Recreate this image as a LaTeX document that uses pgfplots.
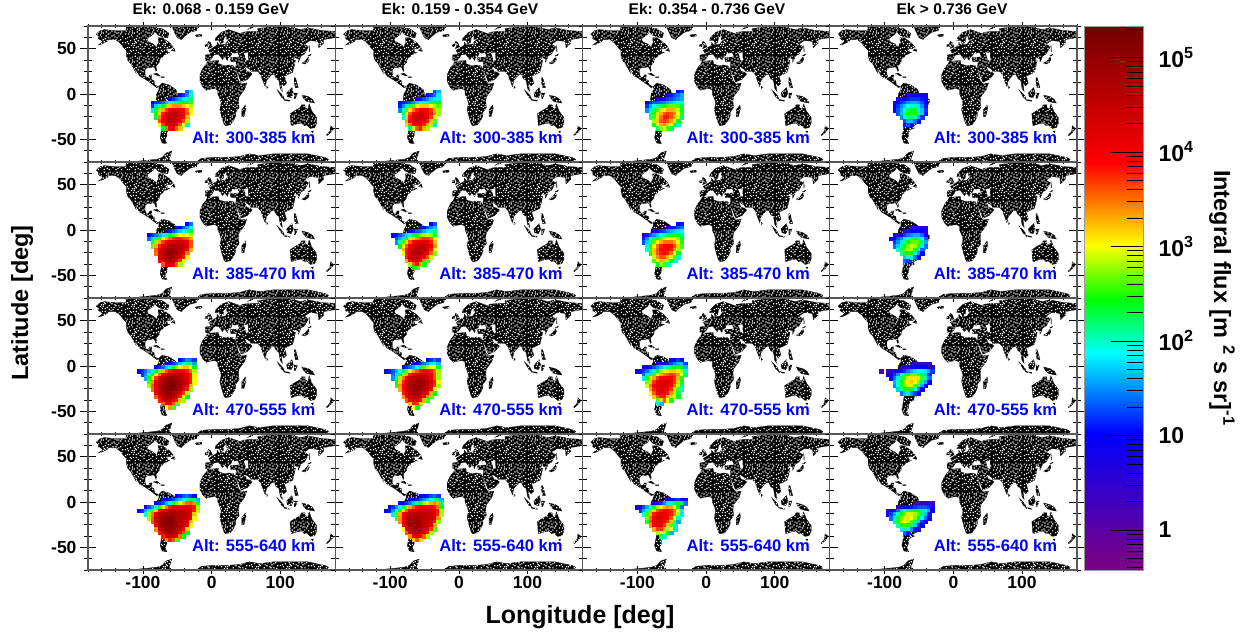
\documentclass[border=0pt]{standalone}
\usepackage{fontspec}
\setmainfont{Liberation Sans}
\usepackage{pgfplots}
\usepackage{pgfplotstable}
\pgfplotsset{compat=1.18}
\usetikzlibrary{patterns}

% white noise on the land
\pgfdeclarepatternformonly{speck}{\pgfqpoint{0pt}{0pt}}{\pgfqpoint{31pt}{29pt}}{\pgfqpoint{31pt}{29pt}}{%
  \foreach \x/\y in {1/3,5/1,9/4,14/2,18/5,23/1,27/3,3/7,7/9,12/7,16/10,21/8,25/6,29/9,
    1/12,6/14,10/11,14/14,19/12,24/13,28/15,3/17,8/18,12/16,17/17,22/18,26/19,
    1/21,5/23,10/22,15/21,19/24,24/22,29/23,3/26,8/27,13/26,17/28,22/26,27/27,
    11/1,20/3,4/11,26/10,16/6,8/24,21/20,13/19,30/18,6/4,23/15,18/8,2/24,25/25,
    11/13,29/5,15/25,7/20,20/15,9/7,
    3/1,7/3,12/4,16/1,25/2,29/1,1/6,5/7,10/9,14/8,20/6,23/10,27/8,30/12,
    3/13,8/11,12/12,17/13,22/11,26/14,1/16,5/18,10/15,15/17,19/19,24/17,28/21,
    4/21,8/22,13/23,17/22,22/23,26/22,30/25,1/27,6/26,11/28,15/27,20/27,24/28,29/27}{%
    \pgfpathrectangle{\pgfpoint{\x pt}{\y pt}}{\pgfqpoint{1.25pt}{1.25pt}}\pgfusepath{fill}}}

\pgfplotsset{colormap={saa}{rgb255(0pt)=(128,0,128); rgb255(252pt)=(0,0,255); rgb255(399pt)=(0,255,255);
  rgb255(498pt)=(0,255,0); rgb255(597pt)=(255,255,0); rgb255(748pt)=(255,0,0); rgb255(1000pt)=(115,0,0)}}

% continents, lon lat
\pgfplotstableread{
lon lat
-168 66
-162 70
-156 71
-141 70
-128 70
-115 70
-108 70
-95 71
-90 72
-82 70
-85 66
-94 61
-93 58
-85 55
-82 53
-80 51
-79 54
-77 57
-78 62
-72 62
-66 59
-62 57
-56 52
-60 50
-66 50
-70 47
-65 49
-64 46
-61 46
-66 44
-70 43
-71 41
-74 40
-76 37
-76 35
-81 31
-80 26
-81 25
-83 29
-85 30
-90 29
-94 29
-97 27
-97 22
-95 18
-91 19
-90 21
-87 21
-88 16
-84 15
-83 10
-80 9
-77 8
-80 7
-85 10
-92 14
-96 16
-105 20
-109 25
-113 31
-110 23
-115 30
-118 34
-122 37
-124 42
-124 48
-128 51
-133 56
-140 60
-150 60
-152 58
-160 55
-165 54
-158 58
-165 61
-165 64
-168 66
nan nan
-73 78
-60 82
-30 83
-20 75
-22 70
-32 68
-42 62
-44 60
-50 62
-54 68
-58 75
-70 76
nan nan
-90 74
-72 72
-62 67
-64 62
-72 63
-78 65
-84 70
nan nan
-125 76
-85 76
-85 72
-100 69
-118 69
-125 71
nan nan
-59 48
-53 47
-55 51
nan nan
-85 22
-80 23
-75 20
-78 20
nan nan
-74 19
-69 19
-69 18
-74 18
nan nan
-24 65
-15 66
-14 64
-22 63
nan nan
-5 58
-2 57
1 52
-5 50
-3 54
-6 56
nan nan
-10 54
-6 55
-6 52
-10 52
nan nan
-77 8
-72 12
-62 10
-52 5
-50 0
-44 -2
-35 -6
-35 -9
-39 -15
-41 -22
-48 -26
-53 -33
-58 -35
-57 -38
-62 -39
-65 -42
-65 -46
-68 -50
-65 -55
-72 -54
-75 -48
-73 -40
-71 -30
-70 -18
-76 -14
-81 -6
-80 0
-77 4
nan nan
-6 36
10 37
11 33
20 31
25 32
32 31
34 28
37 21
39 15
43 11
51 12
48 5
40 -3
39 -8
40 -15
35 -20
35 -24
32 -29
27 -34
20 -35
18 -33
15 -26
12 -17
14 -10
12 -5
9 0
9 4
5 6
-5 5
-8 4
-13 8
-17 14
-17 21
-13 28
-9 32
nan nan
-9 37
-9 43
-1 44
-4 48
2 51
8 54
8 57
11 54
20 55
24 59
30 60
22 60
22 65
18 62
17 57
13 55
11 59
5 59
6 62
14 68
25 71
40 67
44 66
44 68
55 69
68 69
67 72
75 73
80 73
100 76
113 74
130 71
140 73
160 70
180 69
180 65
178 62
163 60
163 56
156 51
155 58
143 59
135 55
141 52
135 44
130 42
128 38
126 35
126 39
121 40
118 38
122 37
120 30
118 24
110 21
106 20
109 12
105 9
101 13
103 3
100 6
98 15
94 17
91 22
87 21
80 15
78 8
73 18
72 21
67 25
57 25
56 27
50 30
48 30
51 25
56 24
59 22
52 16
43 13
39 21
35 28
36 36
28 36
27 40
41 41
38 46
33 45
30 46
28 42
24 40
23 37
20 40
13 45
18 40
16 38
10 44
3 43
0 39
-5 36
nan nan
80 9
82 7
80 6
nan nan
131 34
136 36
141 41
142 38
140 35
135 33
nan nan
140 42
145 44
143 42
nan nan
142 54
143 47
142 47
nan nan
120 18
122 18
124 13
126 7
122 7
120 14
nan nan
109 1
117 7
119 1
116 -4
110 -3
nan nan
95 5
104 -2
106 -6
101 -3
nan nan
105 -6
114 -7
114 -8
106 -7
nan nan
120 1
125 1
122 -5
120 -5
nan nan
131 -1
141 -3
147 -6
150 -10
143 -9
138 -8
133 -4
nan nan
114 -22
122 -18
129 -15
131 -12
136 -12
136 -15
140 -17
142 -11
146 -19
153 -26
153 -32
150 -37
144 -38
138 -34
135 -35
131 -32
124 -33
116 -35
115 -30
nan nan
145 -41
148 -41
147 -43
nan nan
173 -35
178 -38
175 -41
172 -40
nan nan
172 -41
174 -42
168 -46
167 -45
nan nan
49 -12
50 -16
47 -25
44 -25
44 -17
nan nan
52 71
58 74
68 77
56 72
nan nan
-180 -85
-160 -78
-100 -73.5
-80 -72
-72 -70
-66 -65
-58 -63
-60 -68
-62 -72
-60 -75
-40 -78
-20 -74
-15 -71
0 -70
20 -70
40 -69
55 -66
70 -68
90 -66
110 -66
140 -66
165 -70
170 -72
165 -78
180 -80
180 -85
}\landtbl
\pgfplotstableread{
lon lat
47 45
53 46
53 40
54 37
50 37
49 41
}\caspiantbl

% flux cells: log10(flux) x 10, rows are latitude, columns are longitude
\pgfplotstableread{
lat -105 -100 -95 -90 -85 -80 -75 -70 -65 -60 -55 -50 -45 -40 -35 -30 -25 -20
2 nan nan nan nan nan nan nan nan nan nan nan nan nan nan 14 18 nan nan
-2 nan nan nan nan nan nan nan nan nan nan nan nan 10 12 15 20 nan nan
-6 nan nan nan nan nan nan nan nan nan 8 12 14 16 18 20 22 nan nan
-10 nan nan nan nan 10 12 12 14 16 19 21 22 23 24 25 26 nan nan
-14 nan nan nan nan 12 17 20 24 28 32 34 34 34 32 30 28 nan nan
-18 nan nan nan nan 18 22 28 33 37 40 42 42 41 39 35 30 nan nan
-22 nan nan nan nan nan 25 32 38 42 44 45 44 43 40 36 30 nan nan
-26 nan nan nan nan nan 23 34 40 44 46 46 45 43 40 33 nan nan nan
-30 nan nan nan nan nan nan 36 41 44 46 45 44 41 36 28 nan nan nan
-34 nan nan nan nan nan nan 30 37 42 43 43 41 36 30 20 nan nan nan
-38 nan nan nan nan nan nan nan 24 35 40 42 36 32 nan nan nan nan nan
}\pAA
\pgfplotstableread{
lat -105 -100 -95 -90 -85 -80 -75 -70 -65 -60 -55 -50 -45 -40 -35 -30 -25 -20
2 nan nan nan nan nan nan nan nan nan nan nan nan nan nan 13 16 nan nan
-2 nan nan nan nan nan nan nan nan nan nan nan nan 10 12 14 18 nan nan
-6 nan nan nan nan nan nan nan nan nan 8 11 13 15 17 18 20 nan nan
-10 nan nan nan nan 9 11 12 13 15 17 19 20 21 22 23 24 nan nan
-14 nan nan nan nan 11 15 18 22 26 30 32 32 32 30 28 26 nan nan
-18 nan nan nan nan 15 20 26 31 35 38 40 40 39 37 33 28 nan nan
-22 nan nan nan nan nan 22 30 36 40 42 43 42 41 38 34 28 nan nan
-26 nan nan nan nan nan 20 32 38 42 44 44 43 41 37 30 nan nan nan
-30 nan nan nan nan nan nan 33 39 42 44 43 42 38 32 26 nan nan nan
-34 nan nan nan nan nan nan 28 35 40 41 41 38 33 28 18 nan nan nan
-38 nan nan nan nan nan nan nan 22 30 36 38 33 28 nan nan nan nan nan
}\pAB
\pgfplotstableread{
lat -105 -100 -95 -90 -85 -80 -75 -70 -65 -60 -55 -50 -45 -40 -35 -30 -25 -20
2 nan nan nan nan nan nan nan nan nan nan nan nan nan 10 12 nan nan nan
-2 nan nan nan nan nan nan nan nan nan nan 9 11 13 14 16 nan nan nan
-6 nan nan nan nan nan nan nan 8 10 11 12 13 14 15 16 nan nan nan
-10 nan nan nan nan 10 12 13 13 14 15 16 17 18 19 20 nan nan nan
-14 nan nan nan nan 12 16 19 21 23 25 26 27 27 26 23 nan nan nan
-18 nan nan nan nan 15 18 22 26 29 31 33 33 32 29 24 nan nan nan
-22 nan nan nan nan nan 20 25 29 33 36 37 36 34 30 25 nan nan nan
-26 nan nan nan nan nan 20 26 31 35 38 38 36 33 29 22 nan nan nan
-30 nan nan nan nan nan nan 28 32 36 37 36 33 29 24 nan nan nan nan
-34 nan nan nan nan nan nan 25 30 33 34 32 29 25 20 nan nan nan nan
-38 nan nan nan nan nan nan nan 22 28 30 26 22 nan nan nan nan nan nan
}\pAC
\pgfplotstableread{
lat -105 -100 -95 -90 -85 -80 -75 -70 -65 -60 -55 -50 -45 -40 -35 -30 -25 -20
-2 nan nan nan nan nan nan nan nan 6 8 9 8 7 9 nan nan nan nan
-6 nan nan nan nan nan 7 8 9 11 12 12 12 11 9 nan nan nan nan
-10 nan nan nan nan 8 10 12 13 15 16 16 15 13 10 nan nan nan nan
-14 nan nan nan nan 9 12 15 17 19 20 20 18 15 11 nan nan nan nan
-18 nan nan nan nan 10 13 16 19 22 24 23 20 17 12 nan nan nan nan
-22 nan nan nan nan nan 13 17 21 24 25 24 21 17 11 nan nan nan nan
-26 nan nan nan nan nan nan 15 19 21 22 20 16 12 nan nan nan nan nan
-30 nan nan nan nan nan nan nan 13 16 17 14 10 nan nan nan nan nan nan
-34 nan nan nan nan nan nan nan 11 13 10 nan nan nan nan nan nan nan nan
}\pAD
\pgfplotstableread{
lat -105 -100 -95 -90 -85 -80 -75 -70 -65 -60 -55 -50 -45 -40 -35 -30 -25 -20
6 nan nan nan nan nan nan nan nan nan nan nan nan nan nan 10 14 nan nan
2 nan nan nan nan nan nan nan nan nan nan nan 8 10 13 16 19 nan nan
-2 nan nan nan nan nan nan nan nan 9 11 13 15 17 19 21 24 nan nan
-6 nan nan nan 10 12 14 16 18 21 24 26 28 30 31 30 28 nan nan
-10 nan nan nan 14 17 22 26 30 33 35 37 38 38 37 36 33 nan nan
-14 nan nan nan nan 22 28 33 37 40 42 43 44 44 43 41 36 nan nan
-18 nan nan nan nan 27 33 38 42 45 46 47 47 46 45 42 36 nan nan
-22 nan nan nan nan nan 36 41 45 48 49 49 48 47 44 40 33 nan nan
-26 nan nan nan nan nan 35 42 46 49 50 49 48 45 42 35 nan nan nan
-30 nan nan nan nan nan nan 42 46 48 49 48 46 43 38 30 nan nan nan
-34 nan nan nan nan nan nan 39 44 46 47 45 42 37 30 nan nan nan nan
-38 nan nan nan nan nan nan nan 36 42 44 41 36 28 nan nan nan nan nan
}\pBA
\pgfplotstableread{
lat -105 -100 -95 -90 -85 -80 -75 -70 -65 -60 -55 -50 -45 -40 -35 -30 -25 -20
6 nan nan nan nan nan nan nan nan nan nan nan nan nan 10 13 nan nan nan
2 nan nan nan nan nan nan nan nan nan nan 8 10 13 15 17 nan nan nan
-2 nan nan nan nan nan nan nan 9 11 13 14 16 18 20 22 nan nan nan
-6 nan nan 9 11 13 15 17 20 23 25 27 28 29 28 25 nan nan nan
-10 nan nan nan 13 16 21 25 29 32 34 36 37 37 35 30 nan nan nan
-14 nan nan nan 15 20 26 31 36 39 41 42 42 41 38 32 nan nan nan
-18 nan nan nan nan 24 30 36 40 43 44 45 44 43 40 34 nan nan nan
-22 nan nan nan nan nan 33 38 42 45 46 46 45 43 38 30 nan nan nan
-26 nan nan nan nan nan 30 39 43 46 47 46 44 41 36 27 nan nan nan
-30 nan nan nan nan nan nan 38 43 45 46 44 41 36 29 nan nan nan nan
-34 nan nan nan nan nan nan 33 40 43 43 40 34 26 nan nan nan nan nan
-38 nan nan nan nan nan nan nan 28 36 38 33 25 nan nan nan nan nan nan
-42 nan nan nan nan nan nan nan nan 24 26 nan nan nan nan nan nan nan nan
}\pBB
\pgfplotstableread{
lat -105 -100 -95 -90 -85 -80 -75 -70 -65 -60 -55 -50 -45 -40 -35 -30 -25 -20
6 nan nan nan nan nan nan nan nan nan nan nan nan nan 9 11 nan nan nan
2 nan nan nan nan nan nan nan nan nan nan 7 9 11 13 14 nan nan nan
-2 nan nan nan nan nan nan 8 10 12 13 15 16 17 18 19 nan nan nan
-6 nan nan nan 9 11 13 15 17 19 21 23 24 25 25 22 nan nan nan
-10 nan nan nan 11 15 19 22 25 27 29 30 30 30 28 24 nan nan nan
-14 nan nan nan 13 17 22 26 30 33 35 35 35 33 30 25 nan nan nan
-18 nan nan nan nan 20 25 30 35 38 39 40 39 36 32 26 nan nan nan
-22 nan nan nan nan 20 26 32 36 39 40 40 38 34 28 nan nan nan nan
-26 nan nan nan nan nan 25 32 36 38 39 38 35 30 24 nan nan nan nan
-30 nan nan nan nan nan nan 29 34 36 36 33 29 26 20 nan nan nan nan
-34 nan nan nan nan nan nan 26 31 33 32 28 24 18 nan nan nan nan nan
-38 nan nan nan nan nan nan nan 24 28 26 20 nan nan nan nan nan nan nan
}\pBC
\pgfplotstableread{
lat -105 -100 -95 -90 -85 -80 -75 -70 -65 -60 -55 -50 -45 -40 -35 -30 -25 -20
2 nan nan nan nan nan nan nan nan nan 5 6 7 6 5 nan nan nan nan
-2 nan nan nan nan nan nan nan 6 7 9 10 10 10 8 nan nan nan nan
-6 nan nan nan nan 7 8 10 12 14 15 16 16 14 10 nan nan nan nan
-10 nan nan nan 8 10 13 15 18 20 22 23 22 19 13 nan nan nan nan
-14 nan nan nan nan 12 15 18 21 24 26 27 26 22 16 nan nan nan nan
-18 nan nan nan nan 14 17 21 24 27 29 28 25 20 14 nan nan nan nan
-22 nan nan nan nan nan 19 23 26 28 28 25 20 14 nan nan nan nan nan
-26 nan nan nan nan nan nan 20 23 25 24 20 15 10 nan nan nan nan nan
-30 nan nan nan nan nan nan nan 17 20 19 14 9 nan nan nan nan nan nan
-34 nan nan nan nan nan nan nan 14 12 nan nan nan nan nan nan nan nan nan
}\pBD
\pgfplotstableread{
lat -105 -100 -95 -90 -85 -80 -75 -70 -65 -60 -55 -50 -45 -40 -35 -30 -25 -20
6 nan nan nan nan nan nan nan nan nan nan nan nan 10 12 15 14 12 nan
2 nan nan nan nan nan nan nan nan 8 10 12 14 17 20 22 21 16 nan
-2 nan nan nan nan nan 10 12 14 17 20 24 27 30 32 32 30 24 nan
-6 9 12 14 17 20 24 28 33 36 38 40 41 41 40 38 35 28 nan
-10 nan 12 15 20 24 30 35 40 43 45 46 46 46 44 42 38 30 nan
-14 nan nan 16 24 30 37 42 46 48 49 49 48 47 45 42 38 30 nan
-18 nan nan nan 26 34 40 45 48 50 51 51 50 48 46 43 38 30 nan
-22 nan nan nan 28 36 42 46 49 51 52 52 50 48 45 41 33 nan nan
-26 nan nan nan nan 35 41 46 49 51 52 51 49 47 43 38 28 nan nan
-30 nan nan nan nan nan 40 45 48 50 50 48 46 43 37 28 nan nan nan
-34 nan nan nan nan nan 36 42 46 48 48 46 43 38 30 24 nan nan nan
-38 nan nan nan nan nan nan 38 44 46 46 42 38 32 28 nan nan nan nan
-42 nan nan nan nan nan nan nan 36 41 41 36 26 nan nan nan nan nan nan
-46 nan nan nan nan nan nan nan nan 30 34 26 nan nan nan nan nan nan nan
}\pCA
\pgfplotstableread{
lat -105 -100 -95 -90 -85 -80 -75 -70 -65 -60 -55 -50 -45 -40 -35 -30 -25 -20
6 nan nan nan nan nan nan nan nan nan nan nan nan 10 12 14 12 nan nan
2 nan nan nan nan nan nan nan nan 8 10 12 14 16 18 20 16 nan nan
-2 nan nan nan nan nan 10 12 14 16 19 23 26 28 30 30 24 nan nan
-6 9 11 13 16 19 23 27 31 34 36 38 39 39 38 35 28 nan nan
-10 nan nan 14 18 23 28 33 38 41 43 44 44 43 40 36 28 nan nan
-14 nan nan 15 22 28 35 40 44 46 47 47 46 44 41 36 28 nan nan
-18 nan nan nan 24 32 38 43 46 48 49 49 48 46 43 38 30 nan nan
-22 nan nan nan 25 34 40 44 47 49 50 50 48 46 42 37 28 nan nan
-26 nan nan nan nan 33 39 44 47 49 50 49 47 44 40 30 nan nan nan
-30 nan nan nan nan nan 38 43 46 48 48 46 44 40 33 24 nan nan nan
-34 nan nan nan nan nan 34 40 44 46 46 44 40 34 26 nan nan nan nan
-38 nan nan nan nan nan nan 36 41 44 44 39 33 26 nan nan nan nan nan
-42 nan nan nan nan nan nan nan 32 38 37 28 nan nan nan nan nan nan nan
-46 nan nan nan nan nan nan nan nan 30 24 nan nan nan nan nan nan nan nan
}\pCB
\pgfplotstableread{
lat -105 -100 -95 -90 -85 -80 -75 -70 -65 -60 -55 -50 -45 -40 -35 -30 -25 -20
6 nan nan nan nan nan nan nan nan nan nan nan 8 10 12 10 nan nan nan
2 nan nan nan nan nan nan nan 8 9 10 11 13 15 16 17 12 nan nan
-2 nan nan nan 9 10 11 13 15 17 19 21 23 24 25 24 16 nan nan
-6 nan 8 10 12 14 17 20 24 28 30 31 32 32 31 28 20 nan nan
-10 nan nan nan 14 18 22 26 30 33 35 36 37 36 34 30 22 nan nan
-14 nan nan nan 18 24 29 33 37 39 40 40 39 37 33 25 nan nan nan
-18 nan nan nan nan 27 32 37 40 42 42 42 40 37 32 24 nan nan nan
-22 nan nan nan nan 29 35 39 42 43 43 42 39 35 29 22 nan nan nan
-26 nan nan nan nan nan 33 38 41 42 42 40 37 32 26 20 nan nan nan
-30 nan nan nan nan nan 30 36 39 41 41 38 34 28 22 nan nan nan nan
-34 nan nan nan nan nan nan 32 36 38 38 33 28 30 24 nan nan nan nan
-38 nan nan nan nan nan nan nan 26 32 36 30 24 nan nan nan nan nan nan
-42 nan nan nan nan nan nan nan 20 16 nan nan nan nan nan nan nan nan nan
}\pCC
\pgfplotstableread{
lat -105 -100 -95 -90 -85 -80 -75 -70 -65 -60 -55 -50 -45 -40 -35 -30 -25 -20
2 nan nan nan nan nan nan nan nan nan 4 4 5 5 5 4 nan nan nan
-2 nan nan nan nan nan nan 6 7 8 9 10 10 10 10 8 6 nan nan
-6 3 nan 5 5 6 8 10 12 14 16 18 19 19 18 16 12 nan nan
-10 nan nan 6 9 12 15 19 23 25 27 27 26 22 17 12 nan nan nan
-14 nan nan nan 10 14 18 22 26 29 31 31 29 26 20 14 nan nan nan
-18 nan nan nan nan 16 20 24 28 31 32 30 27 22 16 10 nan nan nan
-22 nan nan nan nan 15 19 23 27 29 29 26 21 16 10 nan nan nan nan
-26 nan nan nan nan nan 17 21 24 25 23 19 14 10 nan nan nan nan nan
-30 nan nan nan nan nan nan 14 17 18 15 12 8 nan nan nan nan nan nan
}\pCD
\pgfplotstableread{
lat -105 -100 -95 -90 -85 -80 -75 -70 -65 -60 -55 -50 -45 -40 -35 -30 -25 -20
6 nan nan nan nan nan nan nan nan nan nan nan 10 11 13 14 12 10 nan
2 nan nan nan nan nan nan nan 9 10 11 13 15 17 19 21 23 22 16
-2 nan nan nan nan nan 10 11 13 16 19 23 27 30 33 35 36 34 24
-6 nan nan 10 13 16 20 25 30 35 38 40 41 42 42 42 41 38 28
-10 10 12 16 20 26 32 38 42 44 45 46 46 46 45 44 43 38 28
-14 nan nan 20 28 35 41 45 47 48 48 48 47 47 46 45 42 32 nan
-18 nan nan nan 28 36 43 47 49 50 50 49 48 47 46 44 41 30 nan
-22 nan nan nan nan 36 43 48 50 51 51 50 48 47 45 42 33 nan nan
-26 nan nan nan nan nan 41 47 50 51 51 50 48 46 44 40 30 nan nan
-30 nan nan nan nan nan 34 44 48 50 50 49 47 45 41 32 nan nan nan
-34 nan nan nan nan nan nan 38 45 48 48 47 45 42 36 24 nan nan nan
-38 nan nan nan nan nan nan nan 38 44 45 44 41 35 24 nan nan nan nan
-42 nan nan nan nan nan nan nan nan 34 38 36 26 nan nan nan nan nan nan
}\pDA
\pgfplotstableread{
lat -105 -100 -95 -90 -85 -80 -75 -70 -65 -60 -55 -50 -45 -40 -35 -30 -25 -20
6 nan nan nan nan nan nan nan nan nan nan 9 10 11 13 14 12 nan nan
2 nan nan nan nan nan nan nan 9 10 11 13 15 17 19 21 22 16 nan
-2 nan nan nan nan 8 10 12 14 17 21 25 28 31 33 34 33 22 nan
-6 nan 9 12 15 19 24 29 33 36 38 39 40 40 40 38 35 24 nan
-10 9 11 15 19 25 31 36 40 42 43 44 44 44 43 42 38 28 nan
-14 nan nan 18 26 33 39 43 45 46 46 46 45 45 44 42 38 28 nan
-18 nan nan nan 26 34 41 45 47 48 48 47 46 45 44 41 34 nan nan
-22 nan nan nan nan 34 41 46 48 49 49 48 46 45 43 38 28 nan nan
-26 nan nan nan nan nan 39 45 48 49 49 48 46 44 41 33 nan nan nan
-30 nan nan nan nan nan 30 42 46 48 48 47 45 43 37 26 nan nan nan
-34 nan nan nan nan nan nan 36 43 46 46 45 43 38 28 nan nan nan nan
-38 nan nan nan nan nan nan nan 34 42 43 42 36 28 nan nan nan nan nan
-42 nan nan nan nan nan nan nan nan 32 36 28 nan nan nan nan nan nan nan
}\pDB
\pgfplotstableread{
lat -105 -100 -95 -90 -85 -80 -75 -70 -65 -60 -55 -50 -45 -40 -35 -30 -25 -20
2 nan nan nan nan nan nan nan nan nan nan 8 10 11 12 10 9 nan nan
-2 nan nan nan nan nan nan 8 10 12 15 18 21 23 24 22 14 nan nan
-6 nan 7 10 13 16 20 24 28 31 33 34 33 30 24 14 nan nan nan
-10 nan nan 12 16 20 26 32 36 38 39 39 38 35 30 20 nan nan nan
-14 nan nan nan 20 26 33 38 40 41 41 40 38 34 28 18 nan nan nan
-18 nan nan nan nan 27 35 40 42 42 41 40 36 30 20 nan nan nan nan
-22 nan nan nan nan 25 36 41 42 42 40 37 32 26 16 nan nan nan nan
-26 nan nan nan nan nan 34 40 41 40 37 32 26 20 nan nan nan nan nan
-30 nan nan nan nan nan nan 33 37 37 33 28 30 18 nan nan nan nan nan
-34 nan nan nan nan nan nan nan 28 31 29 24 16 nan nan nan nan nan nan
-38 nan nan nan nan nan nan nan nan 22 20 nan nan nan nan nan nan nan nan
}\pDC
\pgfplotstableread{
lat -105 -100 -95 -90 -85 -80 -75 -70 -65 -60 -55 -50 -45 -40 -35 -30 -25 -20
-2 nan nan nan nan nan nan nan nan nan nan 3 3 4 4 5 3 nan nan
-6 nan nan nan nan nan 6 7 9 10 11 12 13 13 13 12 8 nan nan
-10 nan nan 6 8 11 14 17 20 22 23 24 23 22 20 16 9 nan nan
-14 nan nan 8 12 16 20 24 27 29 29 28 26 22 17 11 nan nan nan
-18 nan nan nan 14 18 23 27 30 31 30 27 24 19 14 8 nan nan nan
-22 nan nan nan nan 18 24 28 30 29 26 22 17 12 8 nan nan nan nan
-26 nan nan nan nan nan 20 24 26 25 22 17 12 8 nan nan nan nan nan
-30 nan nan nan nan nan nan 18 21 20 15 10 6 nan nan nan nan nan nan
-34 nan nan nan nan nan nan nan 14 11 nan nan nan nan nan nan nan nan nan
}\pDD

\pgfplotstableread{
x y m
0 0.377 -4.24
1 0.377 -4.24
0 215000 53.32
1 215000 53.32
}\cbartbl

\pgfplotsset{
  panelbase/.style={
    anchor=south west, scale only axis, width=247.25pt, height=136pt,
    xmin=-180, xmax=180, ymin=-75, ymax=75,
    tick align=center, clip=true,
    axis line style={black!65,line width=1.1pt},
    every tick/.style={black,line width=.7pt},
    tick label style={font=\bfseries\fontsize{17.5}{18}\selectfont},
  },
  cell/.style={scatter, only marks, mark=square*, mark size=1.82pt, scatter src=explicit,
    scatter/use mapped color={draw=mapped color,fill=mapped color}, line width=0pt},
}

% #1 x left, #2 y bottom, #3 flux table, #4 altitude, #5 x labels, #6 y labels
\newcommand{\panel}[6]{%
  \begin{axis}[panelbase, at={(#1pt,#2pt)}, axis on top,
      tickwidth=8pt, subtickwidth=4pt, ytick=\empty,
      xtick={-100,0,100}, minor xtick={-180,-160,...,180}, xticklabels={#5},
      xticklabel style={yshift=1pt},
      colormap name=saa, point meta min=-4.24, point meta max=53.32]
    \addplot[fill=black, draw=black, line width=.3pt, unbounded coords=jump] table[x=lon,y=lat] {\landtbl};
    \addplot[draw=none, pattern=speck, pattern color=white, unbounded coords=jump] table[x=lon,y=lat] {\landtbl};
    \addplot[fill=white, draw=none] table[x=lon,y=lat] {\caspiantbl};
    \pgfplotsinvokeforeach{-105,-100,...,-20}{%
      \addplot[cell] table[x expr=##1, y expr={\thisrow{lat}+\thisrow{##1}-\thisrow{##1}}, meta=##1] {#3};}
    \node[anchor=east, text=blue, font=\bfseries\fontsize{16.6}{17}\selectfont]
      at (rel axis cs:0.934,0.176) {Alt: #4 km};
  \end{axis}
  \begin{axis}[panelbase, at={(#1pt,#2pt)},
      tickwidth=16pt, subtickwidth=8pt, xtick=\empty,
      ytick={-50,0,50}, minor ytick={-75,-62.5,...,75}, yticklabels={#6},
      yticklabel style={xshift=0pt}]
  \end{axis}}

\begin{document}
\begin{tikzpicture}
\useasboundingbox (0,0) rectangle (1256pt,635pt);

\panel{88}{473}{\pAA}{300-385}{}{-50,0,50}
\panel{335.25}{473}{\pAB}{300-385}{}{}
\panel{582.5}{473}{\pAC}{300-385}{}{}
\panel{829.75}{473}{\pAD}{300-385}{}{}
\panel{88}{337}{\pBA}{385-470}{}{-50,0,50}
\panel{335.25}{337}{\pBB}{385-470}{}{}
\panel{582.5}{337}{\pBC}{385-470}{}{}
\panel{829.75}{337}{\pBD}{385-470}{}{}
\panel{88}{201}{\pCA}{470-555}{}{-50,0,50}
\panel{335.25}{201}{\pCB}{470-555}{}{}
\panel{582.5}{201}{\pCC}{470-555}{}{}
\panel{829.75}{201}{\pCD}{470-555}{}{}
\panel{88}{65}{\pDA}{555-640}{-100,0,100}{-50,0,50}
\panel{335.25}{65}{\pDB}{555-640}{-100,0,100}{}
\panel{582.5}{65}{\pDC}{555-640}{-100,0,100}{}
\panel{829.75}{65}{\pDD}{555-640}{-100,0,100}{}

\begin{axis}[anchor=south west, at={(1084pt,65pt)}, scale only axis, width=59pt, height=544pt,
    xmin=0, xmax=1, ymin=0.377, ymax=215000, ymode=log, xtick=\empty,
    ytick pos=right, yticklabel pos=right, tick align=inside,
    tickwidth=32pt, subtickwidth=16pt,
    axis line style={black!40,line width=.8pt},
    every tick/.style={black,line width=.6pt},
    ytick={1,10,100,1000,10000,100000},
    yticklabels={1,10,10\textsuperscript{2},10\textsuperscript{3},10\textsuperscript{4},10\textsuperscript{5}},
    minor ytick={0.4,0.5,0.6,0.7,0.8,0.9,2,3,4,5,6,7,8,9,20,30,40,50,60,70,80,90,200,300,400,500,600,700,800,900,2000,3000,4000,5000,6000,7000,8000,9000,20000,30000,40000,50000,60000,70000,80000,90000,200000},
    yticklabel style={anchor=west, xshift=12pt, font=\bfseries\fontsize{23}{24}\selectfont},
    colormap name=saa, point meta min=-4.24, point meta max=53.32, axis on top]
  \addplot[surf, shader=interp, mesh/cols=2, point meta=explicit] table[x=x,y=y,meta=m] {\cbartbl};
\end{axis}

\node[anchor=base, font=\bfseries\fontsize{15.5}{16}\selectfont] at (211pt,620pt) {Ek: 0.068 - 0.159 GeV};
\node[anchor=base, font=\bfseries\fontsize{15.5}{16}\selectfont] at (460pt,620pt) {Ek: 0.159 - 0.354 GeV};
\node[anchor=base, font=\bfseries\fontsize{15.5}{16}\selectfont] at (707pt,620pt) {Ek: 0.354 - 0.736 GeV};
\node[anchor=base, font=\bfseries\fontsize{15.5}{16}\selectfont] at (952pt,620pt) {Ek > 0.736 GeV};
\node[font=\bfseries\fontsize{25}{26}\selectfont] at (580pt,18pt) {Longitude [deg]};
\node[rotate=90, font=\bfseries\fontsize{23.5}{24}\selectfont] at (22pt,332pt) {Latitude [deg]};
\node[rotate=-90, font=\bfseries\fontsize{23.5}{24}\selectfont] at (1222pt,337pt) {Integral flux [m \textsuperscript{2} s sr]\textsuperscript{-1}};
\end{tikzpicture}
\end{document}
